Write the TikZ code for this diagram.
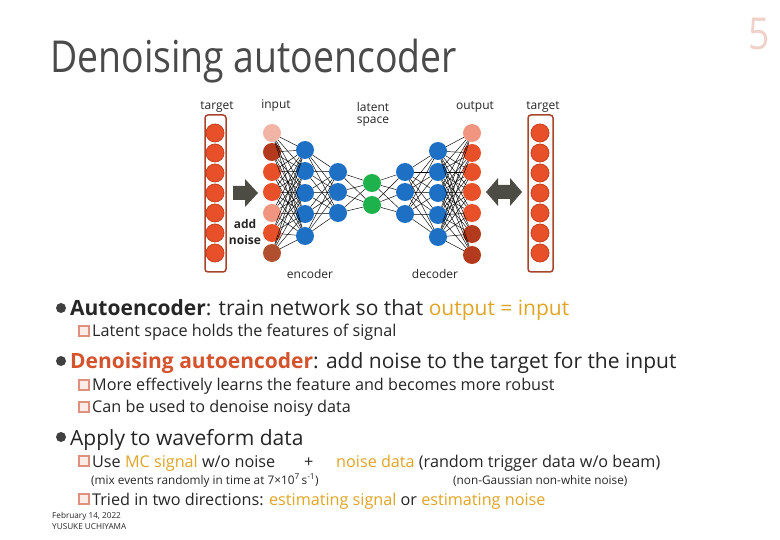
\documentclass[tikz,border=0pt]{standalone}
\usepackage{fontspec}
\setmainfont{Open Sans}
\newfontfamily\titlefont[FakeStretch=0.85]{Open Sans}
\newfontfamily\bodyfont{Open Sans}
\usetikzlibrary{shapes.arrows}
\definecolor{nodeor}{HTML}{E8502A}
\definecolor{nodeedge}{HTML}{C8401E}
\definecolor{indark}{HTML}{B33A1C}
\definecolor{inpink}{HTML}{F2B4A4}
\definecolor{insalmon}{HTML}{F0957F}
\definecolor{inbrown}{HTML}{B0502E}
\definecolor{nnblue}{HTML}{1E70C4}
\definecolor{nngreen}{HTML}{1DB24C}
\definecolor{boxred}{HTML}{A8442E}
\definecolor{arrowgray}{HTML}{4C4C44}
\definecolor{titlegray}{HTML}{404040}
\definecolor{titletext}{HTML}{4A4A4A}
\definecolor{textdark}{HTML}{262626}
\definecolor{gold}{HTML}{E0A526}
\definecolor{rusty}{HTML}{D4532C}
\definecolor{pinkbox}{HTML}{E0907F}
\definecolor{pinkfill}{HTML}{FBECE8}
\definecolor{pagenum}{HTML}{F0D2CA}
\tikzset{
  neuron/.style={circle, minimum size=18pt, inner sep=0pt},
  tneuron/.style={neuron, fill=nodeor, draw=nodeedge, line width=0.8pt},
  conn/.style={black, line width=0.45pt},
  netlabel/.style={font=\fontsize{12}{13}\selectfont, text=textdark, inner sep=0pt, align=center},
  mainitem/.style={anchor=base west, inner sep=0pt, font=\bodyfont\fontsize{21}{24}\selectfont, text=textdark},
  subitem/.style={anchor=base west, inner sep=0pt, font=\bodyfont\fontsize{16.2}{18}\selectfont, text=textdark},
  smallnote/.style={anchor=base west, inner sep=0pt, font=\bodyfont\fontsize{11.8}{13}\selectfont, text=textdark},
  bulletdot/.style={circle, fill=titlegray, minimum size=10pt, inner sep=0pt},
  bulletsq/.style={draw=pinkbox, fill=pinkfill, line width=2pt, minimum size=10pt, inner sep=0pt},
  foot/.style={anchor=base west, inner sep=0pt, font=\fontsize{8.2}{9}\selectfont, text=textdark}
}
\begin{document}
\begin{tikzpicture}[x=1pt,y=-1pt]
\useasboundingbox (0,0) rectangle (780,540);
\fill[white] (0,0) rectangle (780,540);

% title and page number
\node[anchor=base west, inner sep=0pt, font=\titlefont\fontsize{44}{48}\selectfont, text=titletext] (title) at (50,73) {Denoising autoencoder};
\node[anchor=base east, inner sep=0pt, font=\titlefont\fontsize{44}{48}\selectfont, text=pagenum] (pnum) at (770,50) {5};

% target boxes
\draw[boxred, line width=1.5pt, rounded corners=3pt] (205,115) rectangle (226,272);
\draw[boxred, line width=1.5pt, rounded corners=3pt] (528,115) rectangle (553,272);
\foreach \i in {1,...,7} {
  \node[tneuron] (tl\i) at (215,113+20*\i) {};
  \node[tneuron] (tr\i) at (540,113+20*\i) {};
}

% input layer
\foreach \i/\y/\c in {1/133/inpink,2/152/indark,3/172/nodeor,4/192/nodeor,5/213/insalmon,6/233/nodeor,7/253/inbrown}
  \node[neuron, fill=\c] (in\i) at (272,\y) {};
% encoder
\foreach \i/\y in {1/150,2/171,3/193,4/214,5/236}
  \node[neuron, fill=nnblue] (ea\i) at (305,\y) {};
\foreach \i/\y in {1/172,2/192,3/213}
  \node[neuron, fill=nnblue] (eb\i) at (338,\y) {};
% latent
\foreach \i/\y in {1/183,2/205}
  \node[neuron, fill=nngreen] (lt\i) at (372,\y) {};
% decoder
\foreach \i/\y in {1/172,2/192,3/214}
  \node[neuron, fill=nnblue] (da\i) at (405,\y) {};
\foreach \i/\y in {1/151,2/172,3/193,4/215,5/237}
  \node[neuron, fill=nnblue] (db\i) at (438,\y) {};
% output
\foreach \i/\y/\c in {1/133/insalmon,2/153/nodeor,3/172/nodeor,4/192/nodeor,5/213/nodeor,6/234/indark,7/255/indark}
  \node[neuron, fill=\c] (out\i) at (472,\y) {};

% connections
\foreach \i in {1,...,7} \foreach \j in {1,...,5} \draw[conn] (in\i) -- (ea\j);
\foreach \i in {1,...,5} \foreach \j in {1,...,3} \draw[conn] (ea\i) -- (eb\j);
\foreach \i in {1,...,3} \foreach \j in {1,2} \draw[conn] (eb\i) -- (lt\j);
\foreach \i in {1,2} \foreach \j in {1,...,3} \draw[conn] (lt\i) -- (da\j);
\foreach \i in {1,...,3} \foreach \j in {1,...,5} \draw[conn] (da\i) -- (db\j);
\foreach \i in {1,...,5} \foreach \j in {1,...,7} \draw[conn] (db\i) -- (out\j);

% arrows
\fill[arrowgray] (233,186) -- (245,186) -- (245,179) -- (258,193) -- (245,207) -- (245,200) -- (233,200) -- cycle;
\fill[arrowgray] (486,192) -- (498,178) -- (498,185) -- (510,185) -- (510,178) -- (522,192) -- (510,206) -- (510,199) -- (498,199) -- (498,206) -- cycle;

% network labels
\node[netlabel] (ltarget) at (217,107) {target};
\node[netlabel] (linput) at (276,106) {input};
\node[netlabel] (llatent) at (373,114) {latent\\[-1pt]space};
\node[netlabel] (loutput) at (475,107) {output};
\node[netlabel] (rtarget) at (543,107) {target};
\node[netlabel, font=\bfseries\fontsize{12}{16}\selectfont] (lnoise) at (245,232) {add\\noise};
\node[netlabel] (lenc) at (310,274) {encoder};
\node[netlabel] (ldec) at (435,274) {decoder};

% bullets
\node[bulletdot] (b1) at (61,308) {};
\node[mainitem] (t1) at (70,316) {\textbf{Autoencoder}: train network so that \textcolor{gold}{output = input}};
\node[bulletsq] (s1) at (84,331) {};
\node[subitem] (t1a) at (92,337) {Latent space holds the features of signal};

\node[bulletdot] (b2) at (61,361) {};
\node[mainitem] (t2) at (70,369) {\textcolor{rusty}{\textbf{Denoising autoencoder}}: add noise to the target for the input};
\node[bulletsq] (s2) at (84,385) {};
\node[subitem] (t2a) at (92,391) {More effectively learns the feature and becomes more robust};
\node[bulletsq] (s3) at (84,407) {};
\node[subitem] (t2b) at (92,413) {Can be used to denoise noisy data};

\node[bulletdot] (b3) at (61,437) {};
\node[mainitem] (t3) at (70,445) {Apply to waveform data};
\node[bulletsq] (s4) at (84,461) {};
\node[subitem] (t3a) at (92,467) {Use \textcolor{gold}{MC signal} w/o noise};
\node[subitem] (plus) at (304,467) {+};
\node[subitem] (t3b) at (336,467) {\textcolor{gold}{noise data} (random trigger data w/o beam)};
\node[smallnote] (n1) at (91,484) {(mix events randomly in time at 7\texttimes10\textsuperscript{7}\,s\textsuperscript{-1})};
\node[smallnote] (n2) at (453,484) {(non-Gaussian non-white noise)};
\node[bulletsq] (s5) at (84,499) {};
\node[subitem] (t3c) at (92,505) {Tried in two directions: \textcolor{gold}{estimating signal} or \textcolor{gold}{estimating noise}};

% footer
\node[foot] (date) at (52,518) {February 14, 2022};
\node[foot] (author) at (52,529) {YUSUKE UCHIYAMA};
\end{tikzpicture}
\end{document}
